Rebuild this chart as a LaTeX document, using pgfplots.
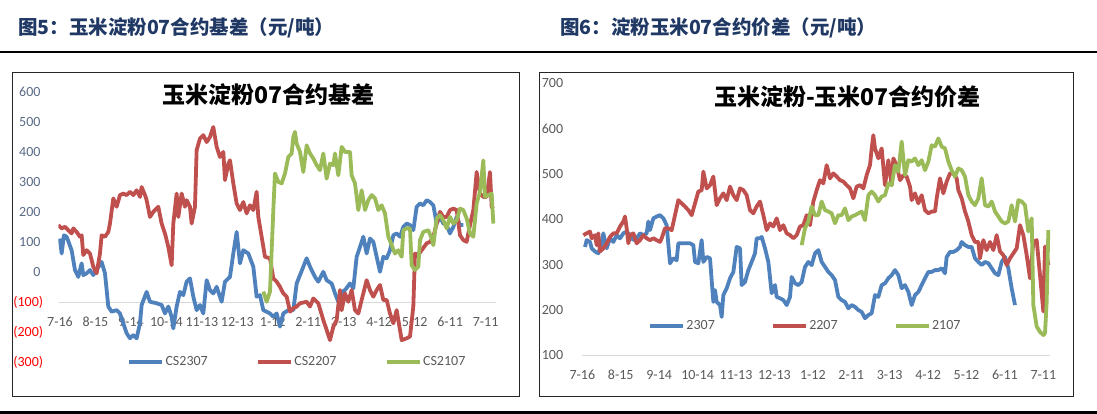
\documentclass[border=0pt]{standalone}
\usepackage{fontspec}
\setmainfont{Carlito}
\newfontfamily\cjk{Noto Sans CJK SC}
\usepackage{pgfplots}
\pgfplotsset{compat=1.18}
\definecolor{sblue}{HTML}{4F81BD}
\definecolor{sred}{HTML}{C0504D}
\definecolor{sgreen}{HTML}{9BBB59}
\definecolor{tickc}{HTML}{595959}
\definecolor{ytickc}{HTML}{5A6B86}
\definecolor{headc}{HTML}{1F3864}
\definecolor{axc}{HTML}{D9D9D9}
\tikzset{tkfont/.style={font=\fontsize{14}{14}\selectfont}}
\pgfplotsset{
  every axis plot/.append style={line width=3.8pt, line join=round},
  legend image code/.code={\draw[#1] (0pt,0pt) -- (33pt,0pt);},
}
\begin{document}
\begin{tikzpicture}
\useasboundingbox (0pt,0pt) rectangle (1097pt,414pt);
\node[anchor=west, inner sep=0pt, font=\cjk\bfseries\fontsize{19.5}{20}\selectfont, text=headc] at (18pt,386pt) {图5：玉米淀粉07合约基差（元/吨）};
\node[anchor=west, inner sep=0pt, font=\cjk\bfseries\fontsize{19.5}{20}\selectfont, text=headc] at (560pt,386pt) {图6：淀粉玉米07合约价差（元/吨）};
\fill[black] (0pt,361pt) rectangle (1097pt,363pt);
\fill[black] (0pt,0pt) rectangle (1097pt,2.5pt);
\draw[line width=1pt, black!85] (12.5pt,17pt) rectangle (519pt,341pt);
\draw[line width=1pt, black!85] (539.5pt,17pt) rectangle (1073pt,341pt);
\node[font=\cjk\bfseries\fontsize{23}{24}\selectfont] at (268.5pt,319pt) {玉米淀粉07合约基差};
\node[font=\cjk\bfseries\fontsize{23}{24}\selectfont] at (847.5pt,317pt) {玉米淀粉-玉米07合约价差};

\begin{axis}[at={(58.3pt,52pt)}, anchor=south west, width=437.7pt, height=269.7pt, scale only axis,
  xmin=55, xmax=1368, ymin=-300, ymax=600,
  axis line style={draw=none}, major tick length=0pt,
  xtick={60,166.4,272.8,379.2,485.6,592,698.4,804.8,911.2,1017.6,1124,1230.4,1336.8},
  xticklabels={7-16,8-15,9-14,10-14,11-13,12-13,1-12,2-11,3-13,4-12,5-12,6-11,7-11},
  ytick={-300,-200,-100,0,100,200,300,400,500,600},
  yticklabels={{\color{red}(300)},{\color{red}(200)},{\color{red}(100)},0\kern2.6pt,100\kern2.6pt,200\kern2.6pt,300\kern2.6pt,400\kern2.6pt,500\kern2.6pt,600\kern2.6pt},
  xticklabel style={tkfont, anchor=center, yshift=40.3pt, text=tickc},
  yticklabel style={tkfont, anchor=east, inner sep=0pt, xshift=-15pt, text=ytickc},
  legend style={at={(0.157,0)}, anchor=west, draw=none, fill=none, inner sep=0pt, tkfont, text=tickc,
    nodes={inner sep=1.5pt}, /tikz/every even column/.append style={column sep=46.7pt}},
  legend columns=3,
]
\draw[axc, line width=1pt] (axis cs:55,-100) -- (axis cs:1368,-100);
\addplot[sblue] coordinates {(60,112)(65,62)(72,123)(80,118)(95,73)(105,7)(115,-16)(125,29)(130,-10)(140,-4)(150,7)(160,-10)(170,7)(185,34)(195,-4)(205,-115)(215,-132)(230,-127)(240,-138)(250,-171)(260,-204)(270,-221)(280,-210)(290,-221)(300,-171)(305,-110)(320,-66)(330,-99)(350,-104)(365,-110)(375,-138)(385,-115)(395,-149)(400,-188)(410,-115)(420,-66)(430,-77)(440,-32)(450,-21)(460,-82)(470,-127)(480,-110)(490,-138)(500,-27)(510,-60)(520,-71)(530,-49)(545,-99)(555,-32)(570,-16)(580,62)(590,134)(600,29)(610,73)(625,62)(640,18)(650,-82)(660,-77)(670,-127)(690,-138)(700,-149)(710,-138)(720,-182)(730,-138)(745,-127)(760,-127)(770,-38)(790,18)(800,46)(810,18)(825,-16)(835,-32)(850,1)(860,-27)(875,-38)(885,-71)(895,-99)(905,-66)(915,-60)(930,-38)(940,-54)(950,51)(960,84)(970,118)(980,62)(990,112)(1000,101)(1010,51)(1020,1)(1030,51)(1040,46)(1050,73)(1060,123)(1070,129)(1080,118)(1090,151)(1100,162)(1110,157)(1120,140)(1130,218)(1140,229)(1150,223)(1160,240)(1170,234)(1180,223)(1190,162)(1200,184)(1210,162)(1220,157)(1230,129)(1240,151)(1250,184)(1260,157)(1270,157)};
\addplot[sred] coordinates {(55,157)(65,146)(75,151)(85,140)(95,129)(100,146)(110,134)(120,118)(125,123)(130,57)(140,73)(150,62)(160,18)(170,-4)(180,62)(185,123)(195,118)(205,134)(210,162)(220,246)(230,218)(240,257)(250,262)(260,257)(270,268)(280,257)(290,273)(300,251)(305,284)(315,257)(320,240)(330,184)(340,201)(355,218)(365,162)(375,129)(385,84)(395,23)(400,162)(410,262)(415,184)(425,262)(435,218)(440,240)(450,218)(455,162)(465,218)(470,407)(480,446)(490,457)(500,434)(510,451)(520,484)(530,418)(540,384)(550,401)(555,307)(565,362)(570,373)(580,296)(590,229)(600,207)(610,234)(620,196)(630,223)(640,207)(650,268)(655,184)(665,118)(675,51)(690,46)(700,-21)(710,-32)(720,-49)(730,-71)(740,-82)(750,-132)(760,-121)(770,-115)(780,-104)(800,-99)(810,-115)(820,-88)(835,-104)(850,-160)(860,-193)(870,-227)(880,-182)(890,-160)(900,-60)(905,-127)(915,-71)(925,-99)(935,-60)(945,-127)(955,-138)(965,-93)(980,-27)(990,-60)(1000,-82)(1010,-60)(1020,-43)(1030,-93)(1040,-93)(1050,-138)(1060,-171)(1070,-127)(1080,-193)(1085,-227)(1100,-221)(1110,-215)(1120,-115)(1125,62)(1135,57)(1145,73)(1160,96)(1170,101)(1180,118)(1190,162)(1200,201)(1210,184)(1220,184)(1230,207)(1240,212)(1250,207)(1260,123)(1270,107)(1280,101)(1290,157)(1300,207)(1310,334)(1320,262)(1330,251)(1340,251)(1350,334)(1355,218)(1360,212)};
\addplot[sgreen] coordinates {(670,-65)(680,-99)(690,-65)(700,207)(705,329)(715,301)(725,296)(735,329)(745,384)(755,396)(760,451)(765,468)(770,429)(780,401)(790,334)(800,423)(810,396)(820,379)(830,357)(840,340)(850,396)(860,312)(870,362)(880,357)(885,396)(895,323)(905,418)(915,401)(930,401)(935,323)(945,296)(955,207)(965,273)(975,207)(985,240)(995,257)(1005,246)(1015,207)(1025,223)(1035,196)(1045,118)(1055,90)(1065,62)(1075,73)(1085,51)(1090,140)(1100,146)(1110,146)(1115,23)(1125,7)(1135,18)(1140,107)(1150,134)(1165,140)(1175,112)(1180,90)(1190,179)(1200,190)(1210,173)(1220,146)(1230,184)(1240,162)(1250,173)(1260,212)(1270,207)(1280,179)(1290,129)(1300,118)(1310,229)(1320,268)(1330,373)(1335,251)(1345,257)(1355,262)(1360,162)};
\legend{CS2307,CS2207,CS2107}
\end{axis}

\begin{axis}[at={(582pt,58.5pt)}, anchor=south west, width=468pt, height=272.5pt, scale only axis,
  xmin=66, xmax=1470, ymin=100, ymax=700,
  axis line style={draw=none}, major tick length=0pt,
  xtick={67,182.25,297.5,412.75,528,643.25,758.5,873.75,989,1104.25,1219.5,1334.75,1450},
  xticklabels={7-16,8-15,9-14,10-14,11-13,12-13,1-12,2-11,3-13,4-12,5-12,6-11,7-11},
  ytick={100,200,300,400,500,600,700},
  yticklabels={100,200,300,400,500,600,700},
  xticklabel style={tkfont, anchor=center, yshift=-19.5pt, text=tickc},
  yticklabel style={tkfont, anchor=east, inner sep=0pt, xshift=-18.7pt, text=tickc},
  legend style={at={(0.141,0.108)}, anchor=west, draw=none, fill=none, inner sep=0pt, tkfont, text=tickc,
    nodes={inner sep=1.5pt}, /tikz/every even column/.append style={column sep=54.6pt}},
  legend columns=3,
]
\draw[axc, line width=1pt] (axis cs:66,100) -- (axis cs:1470,100);
\addplot[sblue] coordinates {(75,339)(80,354)(90,350)(95,336)(105,329)(115,325)(125,347)(130,369)(140,336)(150,358)(160,350)(170,365)(180,358)(190,369)(200,373)(210,365)(220,354)(230,358)(240,369)(250,365)(260,369)(265,395)(270,376)(280,402)(290,406)(300,409)(310,402)(320,387)(330,303)(340,314)(350,310)(355,347)(370,347)(390,347)(400,343)(405,306)(415,303)(425,354)(430,306)(440,317)(450,314)(460,218)(465,244)(470,218)(480,211)(485,185)(490,233)(500,248)(510,270)(520,284)(530,339)(540,336)(545,255)(555,262)(565,288)(575,306)(585,325)(590,358)(600,358)(605,361)(615,336)(625,306)(635,237)(645,255)(650,229)(660,226)(670,222)(680,211)(690,229)(695,273)(705,259)(715,255)(725,262)(735,295)(745,306)(755,299)(765,325)(775,332)(785,306)(795,295)(805,284)(815,277)(825,266)(835,229)(845,222)(855,218)(865,204)(875,211)(885,207)(895,200)(905,196)(915,182)(925,189)(935,193)(945,233)(955,229)(965,255)(975,259)(985,270)(995,277)(1005,288)(1015,277)(1025,248)(1035,255)(1045,240)(1055,211)(1065,233)(1075,240)(1085,255)(1095,270)(1105,284)(1115,284)(1125,288)(1135,288)(1145,292)(1155,281)(1160,317)(1170,328)(1180,328)(1190,332)(1200,339)(1205,350)(1215,343)(1225,339)(1235,339)(1245,314)(1255,306)(1265,299)(1275,306)(1285,303)(1295,292)(1305,281)(1315,277)(1325,306)(1335,317)(1345,292)(1355,248)(1365,211)};
\addplot[sred] coordinates {(70,365)(80,369)(90,373)(95,358)(105,365)(110,343)(115,369)(120,329)(130,336)(140,347)(150,361)(160,369)(170,369)(180,384)(190,395)(195,406)(200,380)(205,347)(210,365)(220,369)(230,347)(240,354)(250,365)(260,358)(270,354)(280,358)(290,354)(300,350)(305,358)(315,380)(325,380)(335,376)(345,409)(355,442)(365,435)(375,428)(385,420)(395,409)(405,435)(415,461)(425,464)(430,505)(440,468)(450,475)(460,494)(470,431)(480,446)(490,457)(500,442)(510,472)(520,453)(530,442)(540,468)(550,464)(560,453)(570,420)(580,413)(590,428)(600,439)(610,409)(620,376)(630,391)(640,384)(650,402)(660,376)(670,387)(680,369)(690,365)(700,358)(710,365)(720,384)(730,387)(740,409)(750,387)(760,439)(770,464)(780,486)(790,479)(800,519)(805,505)(810,490)(820,501)(830,494)(840,486)(850,483)(860,475)(870,468)(880,446)(890,472)(900,475)(910,468)(920,497)(930,519)(935,556)(940,585)(945,556)(955,534)(965,556)(975,475)(985,530)(995,475)(1000,534)(1010,519)(1020,486)(1030,497)(1040,494)(1050,472)(1055,442)(1065,457)(1075,435)(1085,453)(1095,420)(1105,413)(1115,417)(1125,417)(1130,446)(1140,490)(1150,457)(1160,483)(1170,501)(1180,501)(1190,490)(1195,464)(1205,446)(1215,417)(1225,395)(1235,365)(1245,350)(1255,350)(1260,314)(1270,354)(1280,332)(1290,350)(1300,332)(1310,365)(1320,329)(1330,321)(1340,299)(1350,314)(1360,325)(1370,336)(1380,387)(1390,365)(1400,321)(1410,270)(1420,350)(1430,354)(1440,277)(1450,197)(1455,340)(1465,299)};
\addplot[sgreen] coordinates {(725,343)(735,380)(745,395)(755,428)(765,409)(775,409)(785,439)(795,420)(805,417)(815,413)(825,391)(835,409)(845,409)(855,424)(865,398)(875,406)(885,409)(895,413)(905,417)(915,398)(925,453)(935,461)(945,453)(955,439)(965,450)(975,453)(985,479)(995,475)(1005,519)(1015,505)(1025,571)(1035,497)(1045,530)(1055,527)(1065,534)(1075,519)(1085,530)(1095,508)(1105,527)(1115,563)(1125,560)(1135,578)(1145,560)(1155,556)(1165,527)(1175,508)(1185,494)(1195,512)(1205,508)(1215,494)(1225,453)(1235,439)(1245,431)(1255,446)(1265,490)(1275,431)(1285,428)(1295,439)(1305,417)(1315,406)(1325,395)(1335,391)(1345,395)(1355,431)(1365,395)(1375,442)(1385,439)(1395,431)(1405,373)(1415,402)(1420,211)(1430,164)(1440,152)(1450,145)(1455,149)(1460,218)(1465,376)};
\legend{2307,2207,2107}
\end{axis}
\end{tikzpicture}
\end{document}
